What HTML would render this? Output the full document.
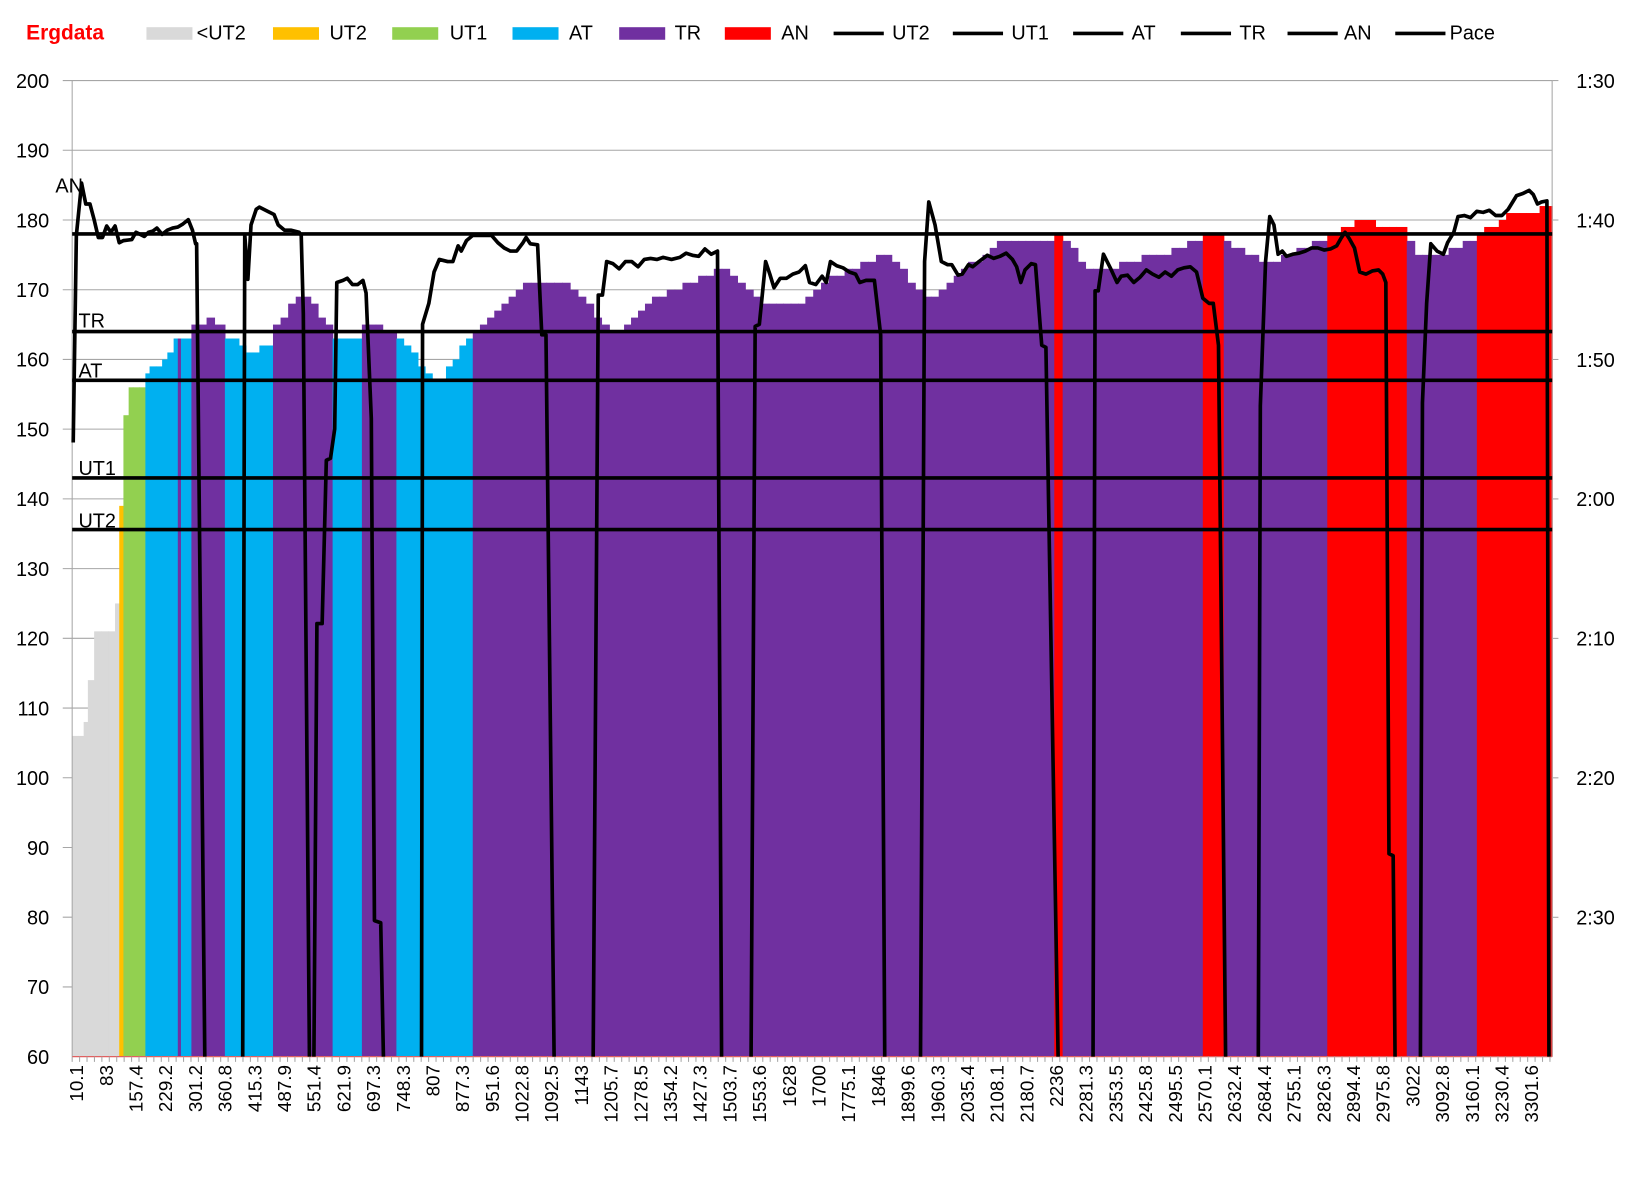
<!DOCTYPE html>
<html><head><meta charset="utf-8"><style>
html,body{margin:0;padding:0;background:#fff;width:1640px;height:1178px;overflow:hidden}
svg{display:block;font-family:"Liberation Sans",sans-serif}
</style></head><body>
<svg id="s" width="1640" height="1178" viewBox="0 0 1568 1126" preserveAspectRatio="none" xmlns="http://www.w3.org/2000/svg">
<defs><clipPath id="cp"><rect x="60" y="60" width="1440" height="950"/></clipPath></defs>
<rect width="1568" height="1126" fill="#fff"/>
<g id="grid"></g>
<g id="bars"></g>
<g id="axes"></g>
<g id="lines" clip-path="url(#cp)"></g>
<g id="txt"></g>
</svg>
<script>
const NS="http://www.w3.org/2000/svg";
function el(p,t,a,txt){const e=document.createElementNS(NS,t);for(const k in a)e.setAttribute(k,a[k]);if(txt!==undefined)e.textContent=txt;document.getElementById(p).appendChild(e);return e;}
const L=69,R=1484,T=77,B=1010;
const Y=v=>B-(v-60)*(B-T)/140;
for(let v=60;v<=200;v+=10){const y=Y(v);
 if(v>60)el('grid','line',{x1:60,x2:R,y1:y,y2:y,stroke:'#a6a6a6','stroke-width':1});
 el('txt','text',{x:47,y:y+7,'text-anchor':'end','font-size':19,fill:'#000'},String(v));}
const rl=['1:30','1:40','1:50','2:00','2:10','2:20','2:30'];
rl.forEach((t,i)=>{const y=77+i*133.3;el('txt','text',{x:1507,y:y+7,'font-size':19},t);el('axes','line',{x1:R,x2:R+6,y1:y,y2:y,stroke:'#a6a6a6'});});
el('axes','line',{x1:L,x2:L,y1:T,y2:B,stroke:'#a6a6a6'});
el('axes','line',{x1:R,x2:R,y1:T,y2:B,stroke:'#a6a6a6'});
const C={g:'#d9d9d9',o:'#ffc000',l:'#92d050',b:'#00b0f0',p:'#7030a0',r:'#ff0000'};
const segs=[
[69,80,'g',106,106],[80,84,'g',108,108],[84,90,'g',114,114],[90,110,'g',121,121],[110,114,'g',125,125],
[114,118,'o',139,139],[118,123,'l',152,152],[123,127,'l',156,156],[127,139,'l',156,156],
[139,143,'b',158,158],[143,155,'b',159,159],[155,160,'b',160,160],[160,166,'b',161,162],[166,170,'b',163,163],[170,173,'p',163,163],[173,183,'b',163,163],
[183,190,'p',165,165],[190,205,'p',165,166],[205,215,'p',165,164],[215,235,'b',163,162],[235,261,'b',161,162],
[261,290,'p',165,169],[290,318,'p',169,165],[318,346,'b',163,163],[346,379,'p',165,164],
[379,420,'b',163,157],[420,452,'b',157,163],
[452,500,'p',164,170],[500,545,'p',171,171],[545,590,'p',170,164],[590,630,'p',164,169],[630,690,'p',169,173],[690,735,'p',173,168],[735,770,'p',168,168],[770,800,'p',169,172],[800,845,'p',172,175],[845,890,'p',175,169],[890,905,'p',169,170],[905,960,'p',171,177],[960,1008,'p',177,177],
[1008,1016,'r',178,178],[1016,1045,'p',177,173],[1045,1070,'p',173,173],[1070,1120,'p',174,175],[1120,1150,'p',176,177],
[1150,1170,'r',178,178],[1170,1210,'p',177,174],[1210,1269,'p',174,177],
[1269,1295,'r',178,179],[1295,1335,'r',180,179],[1335,1345,'r',179,179],
[1345,1360,'p',177,175],[1360,1385,'p',175,175],[1385,1412,'p',176,177],
[1412,1440,'r',178,180],[1440,1472,'r',181,181],[1472,1484,'r',182,182]];
segs.forEach(s=>{const[x0,x1,c,v0,v1]=s;const w=x1-x0;const n=Math.max(1,Math.round(w/7.1));
 for(let i=0;i<n;i++){const v=Math.round(n>1?v0+(v1-v0)*i/(n-1):v0);const a=x0+w*i/n,b=x0+w*(i+1)/n;
 el('bars','rect',{x:a,y:Y(v),width:b-a+0.6,height:B-Y(v),fill:C[c]});}});
el('axes','line',{x1:L,x2:R,y1:B,y2:B,stroke:'#e06060','stroke-width':1.2});
for(let x=L;x<=R;x+=7.1)el('axes','line',{x1:x,x2:x,y1:B,y2:B+5,stroke:'#a6a6a6'});
const xl="10.1 83 157.4 229.2 301.2 360.8 415.3 487.9 551.4 621.9 697.3 748.3 807 877.3 951.6 1022.8 1092.5 1143 1205.7 1278.5 1354.2 1427.3 1503.7 1553.6 1628 1700 1775.1 1846 1899.6 1960.3 2035.4 2108.1 2180.7 2236 2281.3 2353.5 2425.8 2495.5 2570.1 2632.4 2684.4 2755.1 2826.3 2894.4 2975.8 3022 3092.8 3160.1 3230.4 3301.6".split(' ');
xl.forEach((t,i)=>{const x=73+i*28.39+6.5;el('txt','text',{x:0,y:0,'font-size':18,'text-anchor':'end',transform:`translate(${x},1018) rotate(-90)`},t);});
[[178,'AN',53,184],[164,'TR',75,313],[157,'AT',75,361],[143,'UT1',75,454],[135.6,'UT2',75,504]].forEach(z=>{
 const y=Y(z[0]);el('lines','line',{x1:L,x2:R,y1:y,y2:y,stroke:'#000','stroke-width':3.5});
 el('txt','text',{x:z[2],y:z[3],'font-size':19},z[1]);});
let P=`70,423 73,225 78,175 82,195 86,195 90,210 94,227 98,227 102,216 106,222 110,216 114,232 118,230 126,229 130,222 134,224 138,226 142,222 146,221 150,218 155,224 160,220 165,218 170,217 175,214 180,210 184,220 187,233 188,233 196,1010 232,1010 234,224 237,267 240,215 245,200 248,198 252,200 256,202 262,205 266,215 272,220 278,220 286,222 288,225 290,300 296,1010 300,1010 303,596 308,596 312,440 316,438 320,410 322,270 328,268 332,266 337,272 342,272 347,268 350,280 355,400 358,880 364,882 367,1010 403,1010 404,310 410,290 415,260 420,248 428,250 433,250 438,235 441,240 446,230 452,225 458,225 470,225 476,232 482,237 488,240 494,240 500,232 503,227 507,233 514,234 518,320 522,320 530,1010 567,1010 572,282 576,282 580,250 586,252 592,257 598,250 604,250 610,255 616,248 622,247 628,248 634,246 642,248 650,246 656,242 662,244 668,245 674,238 680,243 686,240 690,1010 718,1010 722,312 726,310 732,250 736,262 740,275 746,266 752,266 758,262 764,260 770,254 774,270 780,272 786,264 790,270 794,250 800,254 806,256 812,260 818,262 822,270 828,268 836,268 842,320 846,1010 880,1010 884,250 888,193 894,215 900,250 906,253 910,253 916,263 920,262 926,253 930,255 936,250 944,244 950,247 956,245 962,242 968,248 972,255 976,270 980,258 986,252 990,253 996,330 1000,332 1012,1010 1045,1010 1047,278 1050,278 1055,243 1062,257 1068,270 1072,264 1078,263 1084,270 1090,265 1096,258 1102,262 1108,265 1114,260 1120,264 1126,258 1132,256 1138,255 1144,260 1150,285 1156,290 1160,290 1165,330 1172,1010 1203,1010 1205,388 1210,250 1214,207 1218,215 1222,243 1226,240 1230,245 1236,243 1242,242 1248,240 1254,237 1260,237 1266,239 1272,238 1278,235 1282,228 1286,222 1290,228 1295,237 1300,260 1306,262 1312,259 1318,258 1322,262 1325,270 1328,816 1332,818 1334,1010 1358,1010 1360,385 1364,290 1368,233 1374,240 1380,243 1384,232 1390,222 1394,207 1400,206 1406,208 1412,202 1418,203 1424,201 1430,206 1436,206 1442,200 1450,187 1456,185 1462,182 1466,186 1470,195 1474,193 1479,192 1481,1010`;
P=P.replace(/,1010/g,',1030');
el('lines','polyline',{points:P,fill:'none',stroke:'#000','stroke-width':3.5,'stroke-linejoin':'round'});
el('txt','text',{x:25,y:38,'font-size':20,'font-weight':'bold',fill:'#ff0000'},'Ergdata');
[[140,'#d9d9d9','<UT2',188],[261,'#ffc000','UT2',315],[375,'#92d050','UT1',430],[490,'#00b0f0','AT',544],[592,'#7030a0','TR',645],[693,'#ff0000','AN',747]].forEach(l=>{
 el('txt','rect',{x:l[0],y:26,width:44,height:12,fill:l[1]});el('txt','text',{x:l[3],y:38,'font-size':19},l[2]);});
[[797,'UT2',853],[911,'UT1',967],[1026,'AT',1082],[1129,'TR',1185],[1231,'AN',1285],[1334,'Pace',1386]].forEach(l=>{
 el('txt','line',{x1:l[0],x2:l[0]+48,y1:32,y2:32,stroke:'#000','stroke-width':3.5});el('txt','text',{x:l[2],y:38,'font-size':19},l[1]);});
</script>
</body></html>
